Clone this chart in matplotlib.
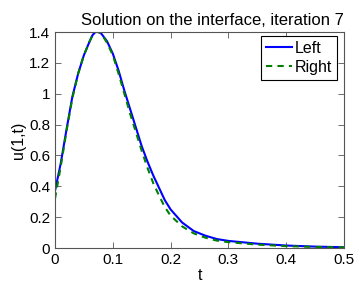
import matplotlib
matplotlib.use("Agg")
import matplotlib.pyplot as plt

plt.rcParams['font.family'] = ['Liberation Sans', 'DejaVu Sans']

t_left = [0, 0.01, 0.02, 0.03, 0.04, 0.05, 0.06, 0.065, 0.07, 0.075, 0.08, 0.09, 0.10,
          0.11, 0.12, 0.13, 0.14, 0.15, 0.16, 0.17, 0.18, 0.19, 0.20, 0.22, 0.24,
          0.26, 0.28, 0.30, 0.35, 0.40, 0.45, 0.50]
u_left = [0.37, 0.55, 0.77, 0.98, 1.13, 1.25, 1.34, 1.38, 1.40, 1.40, 1.39, 1.34, 1.26,
          1.15, 1.02, 0.90, 0.78, 0.66, 0.56, 0.47, 0.39, 0.31, 0.25, 0.165, 0.11,
          0.08, 0.058, 0.046, 0.028, 0.016, 0.009, 0.005]
t_right = t_left
u_right = [0.32, 0.53, 0.76, 0.97, 1.13, 1.25, 1.34, 1.38, 1.40, 1.40, 1.39, 1.33, 1.25,
           1.13, 1.00, 0.87, 0.75, 0.63, 0.52, 0.42, 0.34, 0.265, 0.21, 0.14, 0.095,
           0.067, 0.048, 0.038, 0.022, 0.012, 0.007, 0.004]

xticks = [0, 0.1, 0.2, 0.3, 0.4, 0.5]
xticklabels = ['0', '0.1', '0.2', '0.3', '0.4', '0.5']
yticks = [0, 0.2, 0.4, 0.6, 0.8, 1.0, 1.2, 1.4]
yticklabels = ['0', '0.2', '0.4', '0.6', '0.8', '1', '1.2', '1.4']

fig = plt.figure(figsize=(3.57, 2.82), dpi=100)
ax = fig.add_axes([55/357, 34/282, 289/357, 216/282])
ax.plot(t_left, u_left, color='#0000ff', lw=1.5, label='Left')
ax.plot(t_right, u_right, color='#008000', lw=1.5, ls=(0, (3, 2.5)), label='Right')
ax.set_xlim(0, 0.5)
ax.set_ylim(0, 1.4)
ax.set_xticks(xticks)
ax.set_xticklabels(xticklabels)
ax.set_yticks(yticks)
ax.set_yticklabels(yticklabels)
ax.tick_params(direction='in', top=True, right=True, labelsize=11, length=4,
               color='#555555', width=0.6)
for s in ax.spines.values():
    s.set_color('#555555')
    s.set_linewidth(0.8)
ax.set_xlabel('t', fontsize=11.5, labelpad=1)
ax.set_ylabel('u(1,t)', fontsize=11.5, labelpad=2)
ax.set_title('Solution on the interface, iteration 7', fontsize=12, loc='right', pad=5)
leg = ax.legend(loc='upper right', bbox_to_anchor=(0.976, 0.981), fontsize=11.5,
                fancybox=False, framealpha=1, edgecolor='black', handlelength=1.6,
                borderpad=0.3, labelspacing=0.25, handletextpad=0.2, borderaxespad=0)
leg.get_frame().set_linewidth(0.8)
fig.savefig('out.png', dpi=100)
